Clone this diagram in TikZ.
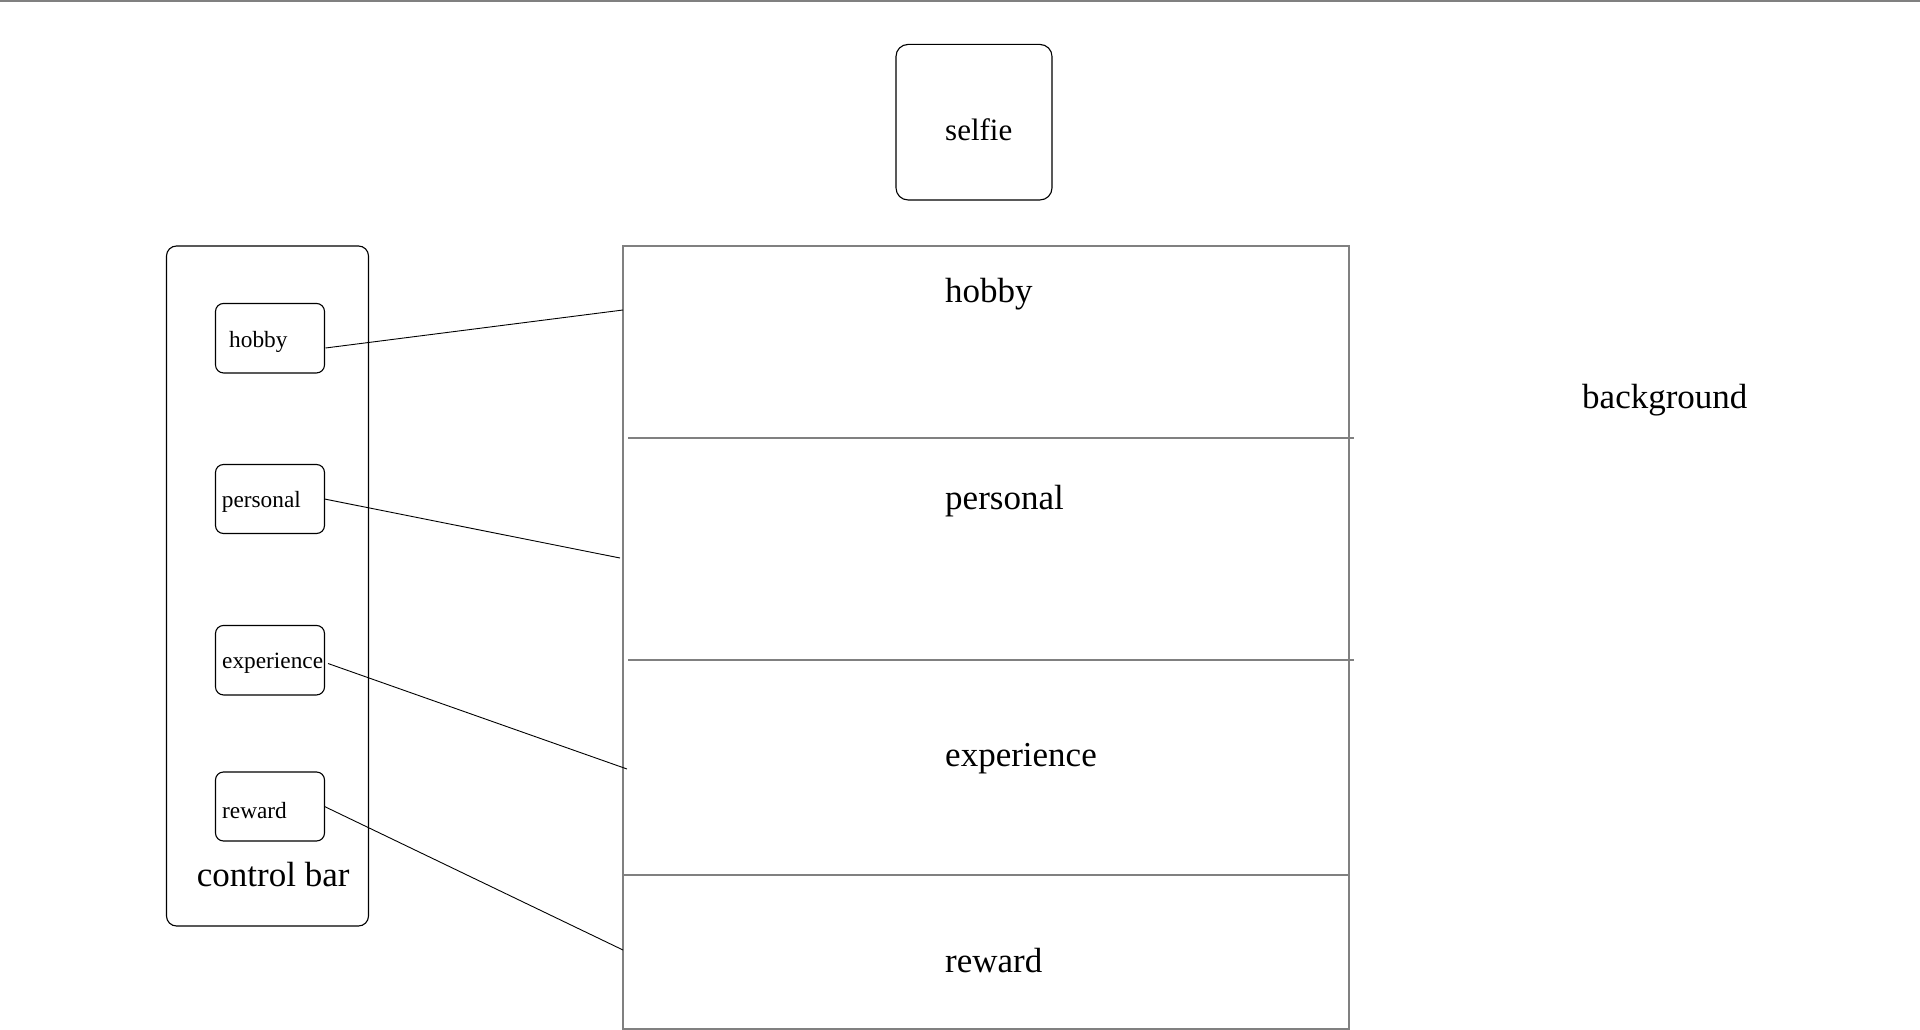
\documentclass[tikz,border=0pt]{standalone}
\usepackage{fontspec}
\setmainfont{Liberation Serif}
\begin{document}
\begin{tikzpicture}[x=1pt,y=-1pt,
  frame/.style={draw=black!50, line width=2pt},
  rbox/.style={draw=black, line width=1.1pt, rounded corners=8pt, inner sep=0pt, outer sep=0pt, rectangle},
  link/.style={draw=black, line width=0.9pt},
  bigtext/.style={font=\fontsize{35}{40}\selectfont, anchor=base west, inner sep=0pt},
  smalltext/.style={font=\fontsize{23.3}{28}\selectfont, anchor=base west, inner sep=0pt}]
\useasboundingbox (0,0) rectangle (1920,1030);
\draw[frame] (0,1) -- (1920,1);

% selfie
\node[rbox, rounded corners=12pt, minimum width=156pt, minimum height=155.5pt] (selfie) at (974,122.2) {};
\node[bigtext, font=\fontsize{31}{36}\selectfont] (selfietxt) at (945,141) {selfie};

% control bar
\node[rbox, rounded corners=10pt, minimum width=202pt, minimum height=680pt] (cbar) at (267.5,586) {};
\node[bigtext] (cbartxt) at (196.7,886.7) {control bar};

\node[rbox, minimum width=109pt, minimum height=69.5pt] (shobby) at (270,338.2) {};
\node[rbox, minimum width=109pt, minimum height=69pt] (spersonal) at (270,499) {};
\node[rbox, minimum width=109pt, minimum height=69.5pt] (sexperience) at (270,660.2) {};
\node[rbox, minimum width=109pt, minimum height=69pt] (sreward) at (270,806.5) {};
\node[smalltext] (shobbytxt) at (229,347) {hobby};
\node[smalltext] (spersonaltxt) at (221.7,507.7) {personal};
\node[smalltext] (sexperiencetxt) at (222,668) {experience};
\node[smalltext] (srewardtxt) at (222,818) {reward};

% main box
\coordinate (mainNW) at (623,245.5);
\coordinate (mainSE) at (1348.5,1028.5);
\draw[frame] (mainNW) rectangle (mainSE);
\draw[frame] (628,438) -- (1354,438);
\draw[frame] (628,660) -- (1354,660);
\draw[frame] (623,875) -- (1348.5,875);
\node[bigtext] (mhobby) at (945,302) {hobby};
\node[bigtext] (mpersonal) at (945,509) {personal};
\node[bigtext] (mexperience) at (945,766) {experience};
\node[bigtext] (mreward) at (945,972) {reward};
\node[bigtext] (bg) at (1582,408) {background};

% connectors
\coordinate (h1) at (325.5,348);
\coordinate (h2) at (623,310);
\coordinate (p2) at (620,558);
\coordinate (e1) at (328,663.5);
\coordinate (e2) at (627,769);
\coordinate (r2) at (623,950);
\draw[link] (h1) -- (h2);
\draw[link] (spersonal.east) -- (p2);
\draw[link] (e1) -- (e2);
\draw[link] (sreward.east) -- (r2);
\end{tikzpicture}
\end{document}
